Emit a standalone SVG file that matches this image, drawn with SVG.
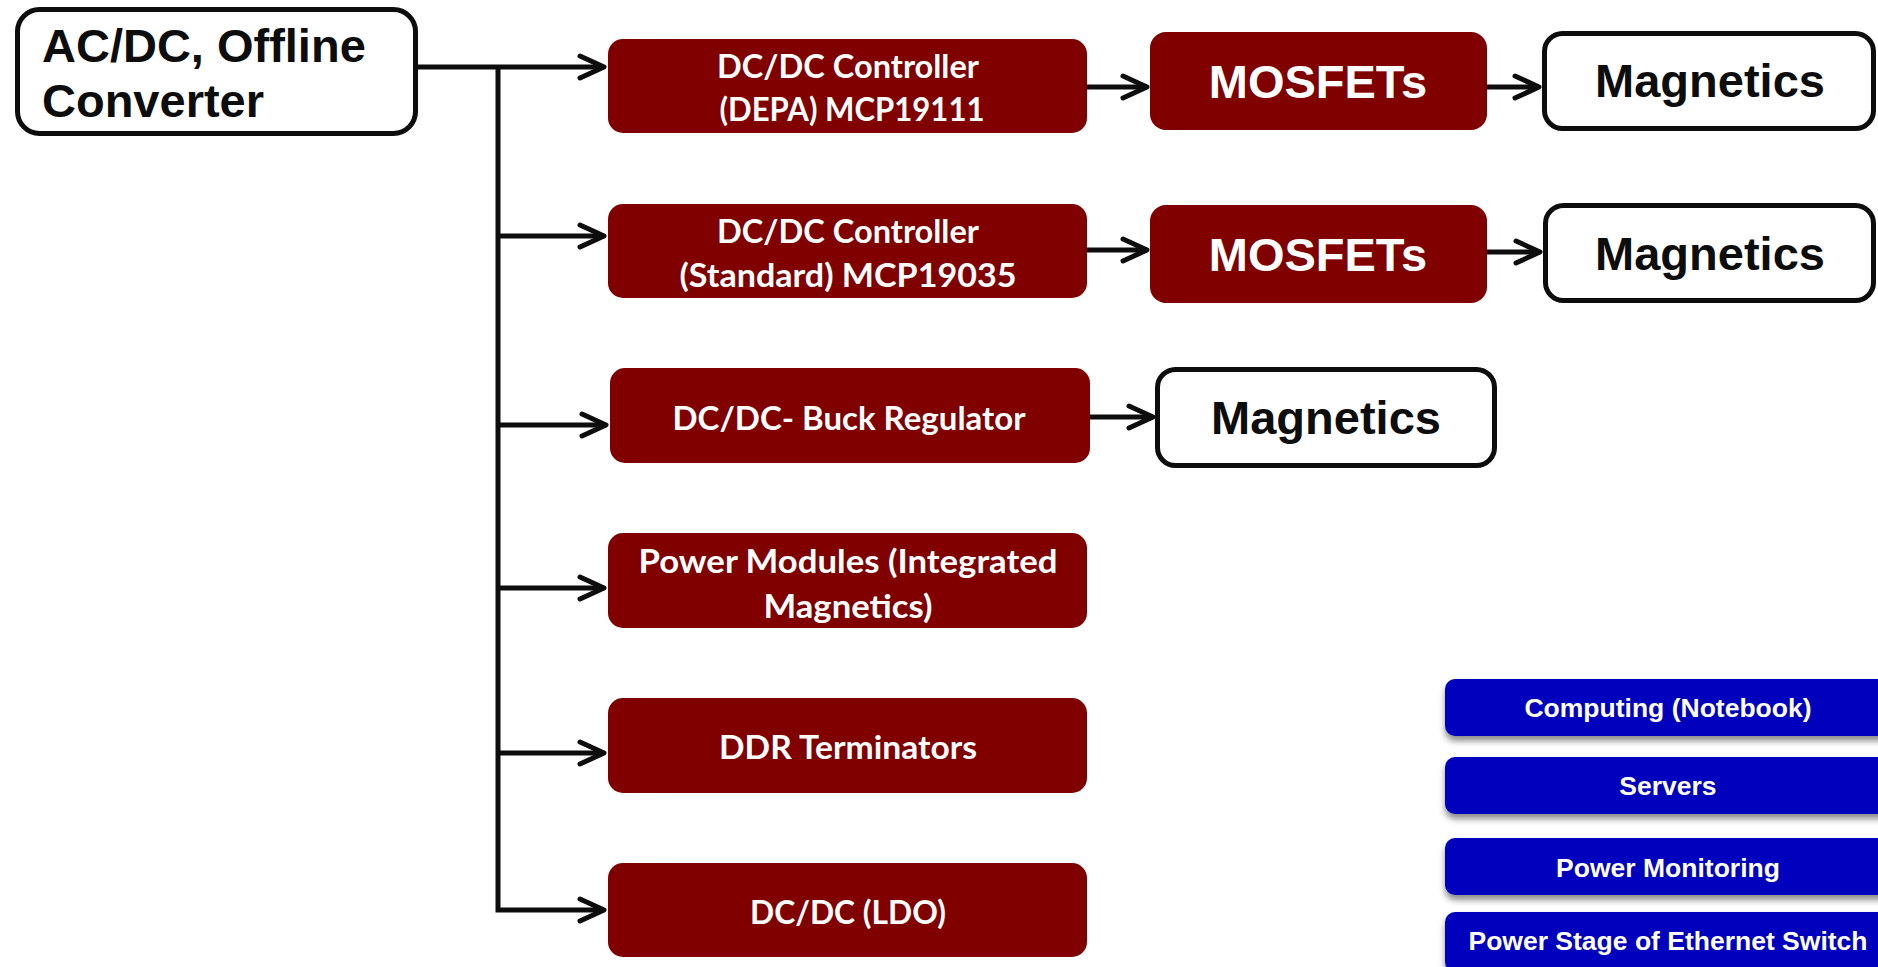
<svg xmlns="http://www.w3.org/2000/svg" width="1878" height="967" viewBox="0 0 1878 967">
<style>
.red{fill:#800000}
.wbox{fill:#fff;stroke:#0d0d0d;stroke-width:5}
.blue{fill:#0000bd;filter:url(#sh)}
.rt{font-family:Lato,"Open Sans","Liberation Sans",sans-serif;font-weight:700;font-size:32.5px;fill:#fff;text-anchor:middle}
.bt{font-family:"Liberation Sans",Arial,sans-serif;font-weight:700;font-size:47px;text-anchor:middle}
.wt{fill:#fff}
.kt{fill:#0d0d0d}
.ut{font-family:"Liberation Sans",Arial,sans-serif;font-weight:700;font-size:26.5px;fill:#fff;text-anchor:middle}
.con{fill:none;stroke:#0d0d0d;stroke-width:5;stroke-linejoin:miter}
</style>
<defs>
<marker id="arr" markerUnits="userSpaceOnUse" markerWidth="40" markerHeight="40" refX="0" refY="0" viewBox="-30 -20 40 40" orient="auto" overflow="visible">
<path d="M-24,-11 L0,0 L-24,11" fill="none" stroke="#0d0d0d" stroke-width="5" stroke-linecap="round" stroke-linejoin="round"/>
</marker>
<filter id="sh" x="-10%" y="-20%" width="120%" height="160%">
<feDropShadow dx="0" dy="5" stdDeviation="3" flood-color="#000" flood-opacity="0.45"/>
</filter>
</defs>
<g id="connectors">
<path class="con" d="M418,67 H604" marker-end="url(#arr)"/>
<path class="con" d="M498,67 V910 H604" marker-end="url(#arr)"/>
<path class="con" d="M498,236 H604" marker-end="url(#arr)"/>
<path class="con" d="M498,425 H606" marker-end="url(#arr)"/>
<path class="con" d="M498,588 H604" marker-end="url(#arr)"/>
<path class="con" d="M498,753 H604" marker-end="url(#arr)"/>
<path class="con" d="M1087,87 H1147" marker-end="url(#arr)"/>
<path class="con" d="M1487,87 H1539" marker-end="url(#arr)"/>
<path class="con" d="M1087,250 H1147" marker-end="url(#arr)"/>
<path class="con" d="M1487,252 H1540" marker-end="url(#arr)"/>
<path class="con" d="M1090,417 H1153" marker-end="url(#arr)"/>
</g>
<g id="acdc">
<rect class="wbox" x="17.5" y="9.5" width="398" height="124" rx="22"/>
<text class="bt kt" style="text-anchor:start" x="42" y="62">AC/DC, Offline</text>
<text class="bt kt" style="text-anchor:start" x="42" y="117">Converter</text>
</g>
<g id="ctrl-depa">
<rect class="red" x="608" y="39" width="479" height="94" rx="15"/>
<text class="rt" x="848" y="78" textLength="262" lengthAdjust="spacingAndGlyphs">DC/DC Controller</text>
<text class="rt" x="852" y="121" textLength="265" lengthAdjust="spacingAndGlyphs">(DEPA) MCP19111</text>
</g>
<g id="ctrl-std">
<rect class="red" x="608" y="204" width="479" height="94" rx="15"/>
<text class="rt" x="848" y="243" textLength="262" lengthAdjust="spacingAndGlyphs">DC/DC Controller</text>
<text class="rt" x="848" y="287" textLength="337" lengthAdjust="spacingAndGlyphs">(Standard) MCP19035</text>
</g>
<g id="buck">
<rect class="red" x="610" y="368" width="480" height="95" rx="15"/>
<text class="rt" x="849" y="430" textLength="353" lengthAdjust="spacingAndGlyphs">DC/DC- Buck Regulator</text>
</g>
<g id="modules">
<rect class="red" x="608" y="533" width="479" height="95" rx="15"/>
<text class="rt" x="848" y="573" textLength="419" lengthAdjust="spacingAndGlyphs">Power Modules (Integrated</text>
<text class="rt" x="848" y="618" textLength="169" lengthAdjust="spacingAndGlyphs">Magnetics)</text>
</g>
<g id="ddr">
<rect class="red" x="608" y="698" width="479" height="95" rx="15"/>
<text class="rt" x="848" y="759" textLength="258" lengthAdjust="spacingAndGlyphs">DDR Terminators</text>
</g>
<g id="ldo">
<rect class="red" x="608" y="863" width="479" height="94" rx="15"/>
<text class="rt" x="848" y="924" textLength="196" lengthAdjust="spacingAndGlyphs">DC/DC (LDO)</text>
</g>
<g id="mosfets1">
<rect class="red" x="1150" y="32" width="337" height="98" rx="16"/>
<text class="bt wt" x="1318" y="98">MOSFETs</text>
</g>
<g id="mosfets2">
<rect class="red" x="1150" y="205" width="337" height="98" rx="16"/>
<text class="bt wt" x="1318" y="271">MOSFETs</text>
</g>
<g id="magnetics1">
<rect class="wbox" x="1544.5" y="33.5" width="329" height="95" rx="18"/>
<text class="bt kt" x="1710" y="97">Magnetics</text>
</g>
<g id="magnetics2">
<rect class="wbox" x="1545.5" y="205.5" width="328" height="95" rx="18"/>
<text class="bt kt" x="1710" y="270">Magnetics</text>
</g>
<g id="magnetics3">
<rect class="wbox" x="1157.5" y="369.5" width="337" height="96" rx="18"/>
<text class="bt kt" x="1326" y="434">Magnetics</text>
</g>
<g id="computing">
<rect class="blue" x="1445" y="679" width="450" height="57" rx="10"/>
<text class="ut" x="1668" y="717">Computing (Notebook)</text>
</g>
<g id="servers">
<rect class="blue" x="1445" y="757" width="450" height="57" rx="10"/>
<text class="ut" x="1668" y="795">Servers</text>
</g>
<g id="monitoring">
<rect class="blue" x="1445" y="838" width="450" height="57" rx="10"/>
<text class="ut" x="1668" y="877">Power Monitoring</text>
</g>
<g id="ethernet">
<rect class="blue" x="1445" y="912" width="450" height="60" rx="10"/>
<text class="ut" x="1668" y="950">Power Stage of Ethernet Switch</text>
</g>
</svg>
